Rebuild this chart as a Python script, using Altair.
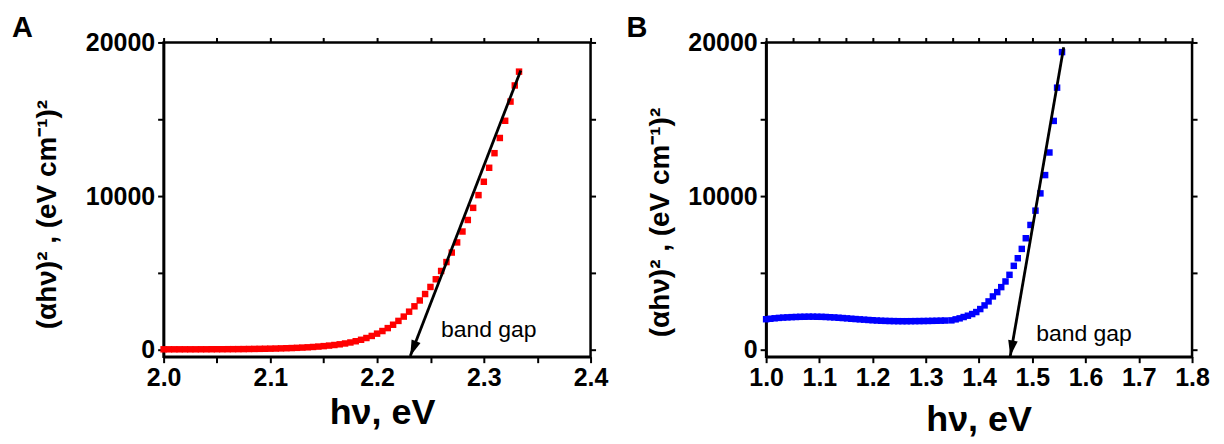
import altair as alt
import pandas as pd

# ---------------- data ----------------
a_hv = [2.000, 2.005, 2.010, 2.015, 2.020, 2.025, 2.030, 2.035, 2.040, 2.045,
        2.050, 2.055, 2.060, 2.065, 2.070, 2.075, 2.080, 2.085, 2.090, 2.095,
        2.100, 2.105, 2.110, 2.115, 2.120, 2.125, 2.130, 2.135, 2.140, 2.145,
        2.150, 2.155, 2.160, 2.165, 2.170, 2.175, 2.180, 2.185, 2.190, 2.195,
        2.200, 2.205, 2.210, 2.215, 2.220, 2.225, 2.230, 2.235, 2.240, 2.245,
        2.250, 2.255, 2.260, 2.265, 2.270, 2.275, 2.280, 2.285, 2.290, 2.295,
        2.300, 2.305, 2.310, 2.315, 2.320, 2.325, 2.329, 2.333]
a_val = [20, 20, 20, 20, 20, 20, 20, 22, 22, 24,
         25, 26, 28, 30, 32, 35, 40, 45, 50, 56,
         62, 70, 80, 90, 102, 116, 132, 150, 172, 198,
         228, 262, 300, 345, 400, 465, 545, 640, 755, 890,
         1040, 1210, 1400, 1620, 1870, 2150, 2470, 2820, 3200, 3620,
         4080, 4580, 5120, 5700, 6320, 6980, 7690, 8440, 9230, 10060,
         10930, 11840, 12790, 13780, 14900, 16150, 17200, 18100]

b_hv = [1.000, 1.008, 1.016, 1.024, 1.032, 1.040, 1.048, 1.056, 1.064, 1.072,
        1.080, 1.088, 1.096, 1.104, 1.112, 1.120, 1.128, 1.136, 1.144, 1.152,
        1.160, 1.168, 1.176, 1.184, 1.192, 1.200, 1.208, 1.216, 1.224, 1.232,
        1.240, 1.248, 1.256, 1.264, 1.272, 1.280, 1.288, 1.296, 1.304, 1.312,
        1.320, 1.328, 1.336, 1.348, 1.356, 1.3635, 1.371, 1.379, 1.387, 1.3947,
        1.4022, 1.4103, 1.4178, 1.4259, 1.4341, 1.4416, 1.4496, 1.4571, 1.4652, 1.4727,
        1.4802, 1.4877, 1.4965, 1.5059, 1.5152, 1.524, 1.5321, 1.5402, 1.5465, 1.5558]
b_val = [1980, 2010, 2040, 2065, 2085, 2100, 2115, 2125, 2135, 2140,
         2145, 2145, 2140, 2135, 2125, 2110, 2095, 2075, 2055, 2035,
         2010, 1990, 1970, 1950, 1930, 1912, 1895, 1880, 1870, 1862,
         1856, 1852, 1850, 1850, 1852, 1855, 1858, 1862, 1866, 1872,
         1878, 1885, 1893, 1905, 1970, 2035, 2122, 2208, 2316, 2446,
         2641, 2879, 3139, 3463, 3745, 4069, 4437, 4870, 5455, 5952,
         6558, 7251, 8117, 9048, 10173, 11364, 12835, 14892, 17056, 19372]

# tangent-line (arrow) end points: [top end, tip]
a_arrow_x = [2.3346, 2.2311]
a_arrow_y = [18180, -420]
b_arrow_x = [1.5589, 1.4585]
b_arrow_y = [19695, -435]

# annotation anchors
a_note = {"x": 2.2598, "y": 844, "text": "band gap"}
b_note = {"x": 1.5072, "y": 584, "text": "band gap"}

# axis ticks (major labelled, minor unlabelled)
y_ticks = [0, 5000, 10000, 15000, 20000]
a_ticks = [2.0, 2.05, 2.1, 2.15, 2.2, 2.25, 2.3, 2.35, 2.4]
b_ticks = [1.0, 1.05, 1.1, 1.15, 1.2, 1.25, 1.3, 1.35, 1.4, 1.45, 1.5,
           1.55, 1.6, 1.65, 1.7, 1.75, 1.8]

Y_TITLE = "(\u03b1h\u03bd)\u00b2 ,  (eV cm\u207b\u00b9)\u00b2"
X_TITLE = "h\u03bd, eV"
FONT = "Liberation Sans"

ARROW_PATH = "M0,0 L-0.3,-1 L0.3,-1 Z"
X_LABEL_EXPR = "round(datum.value*100) % 10 === 0 ? format(datum.value, '.1f') : ''"
Y_LABEL_EXPR = "datum.value % 10000 === 0 ? format(datum.value, 'd') : ''"
Y_DOMAIN = [-460, 20000]


def panel(hv, val, color, xdom, xticks, arrow_x, arrow_y, note, label,
          label_dx, ytitle_x, ytitle_y, xtitle_x, xtitle_y, head_angle, width):
    pts = pd.DataFrame({"hv": hv, "v": val})
    line = pd.DataFrame({"x": [arrow_x[0]], "y": [arrow_y[0]],
                         "x2": [arrow_x[1]], "y2": [arrow_y[1]]})
    tip = pd.DataFrame({"x": [arrow_x[1]], "y": [arrow_y[1]]})
    txt = pd.DataFrame([note])
    lab = pd.DataFrame({"t": [label]})

    xs = alt.Scale(domain=xdom, nice=False, zero=False)
    ys = alt.Scale(domain=Y_DOMAIN, nice=False, zero=False)

    base = alt.Chart(pts).mark_square(size=42, color=color, opacity=1,
                                      filled=True).encode(
        x=alt.X("hv:Q", scale=xs,
                axis=alt.Axis(values=xticks, labelExpr=X_LABEL_EXPR,
                              title=X_TITLE,
                              titleFontSize=36, titleFont=FONT,
                              titleFontWeight="bold", titleX=xtitle_x,
                              titleY=xtitle_y, titleBaseline="alphabetic",
                              titleAlign="center",
                              labelFontSize=25, labelFont=FONT,
                              labelFontWeight="bold", labelPadding=3,
                              labelFlush=False, labelOverlap=False,
                              tickSize=6)),
        y=alt.Y("v:Q", scale=ys,
                axis=alt.Axis(values=y_ticks, labelExpr=Y_LABEL_EXPR,
                              title=Y_TITLE,
                              titleFontSize=28, titleFont=FONT,
                              titleFontWeight="bold", titleAngle=270,
                              titleX=ytitle_x, titleY=ytitle_y,
                              titleAlign="center", titleBaseline="middle",
                              labelFontSize=25, labelFont=FONT,
                              labelFontWeight="bold", labelPadding=3,
                              labelFlush=False, labelOverlap=False,
                              tickSize=6)),
    )
    rule = alt.Chart(line).mark_rule(color="black", strokeWidth=2.8).encode(
        x="x:Q", y="y:Q", x2="x2:Q", y2="y2:Q")
    head = alt.Chart(tip).mark_point(shape=ARROW_PATH, filled=True,
                                     color="black", opacity=1, size=1024,
                                     angle=head_angle).encode(
        x="x:Q", y="y:Q")
    note_t = alt.Chart(txt).mark_text(align="left", baseline="alphabetic",
                                      font=FONT, fontSize=23,
                                      color="black").encode(
        x="x:Q", y="y:Q", text="text:N")
    lab_t = alt.Chart(lab).mark_text(align="left", baseline="alphabetic",
                                     font=FONT, fontSize=29,
                                     fontWeight="bold", color="black").encode(
        x=alt.value(label_dx), y=alt.value(-5), text="t:N")

    main = alt.layer(base, rule, head, note_t, lab_t)

    # mirrored (unlabelled) tick axes on the top and right of the frame
    mirror = alt.Chart(pts).mark_point(opacity=0).encode(
        x=alt.X("hv:Q", scale=alt.Scale(domain=xdom, nice=False, zero=False),
                axis=alt.Axis(orient="top", values=xticks, labels=False,
                              domain=False, tickSize=5, title="")),
        y=alt.Y("v:Q", scale=alt.Scale(domain=Y_DOMAIN, nice=False, zero=False),
                axis=alt.Axis(orient="right", values=y_ticks, labels=False,
                              domain=False, tickSize=5, title="")),
    )
    return alt.layer(main, mirror).resolve_scale(
        x="independent", y="independent").properties(width=width, height=315)


pa = panel(a_hv, a_val, "#ff0000", [2.0, 2.4], a_ticks, a_arrow_x, a_arrow_y,
           a_note, "A", -152, -116, 172, 219, 67, 21.2, 428)
pb = panel(b_hv, b_val, "#0000ff", [1.0, 1.8], b_ticks, b_arrow_x, b_arrow_y,
           b_note, "B", -140, -106, 180, 213, 74, 9.8, 427)

chart = alt.hconcat(pa, pb, spacing=176, bounds="flush").properties(
    padding={"left": 2, "top": 4, "right": 5, "bottom": 5},
    background="white"
).configure_view(
    stroke="black", strokeWidth=2.5
).configure_axis(
    domainColor="black", domainWidth=2.5, tickColor="black", tickWidth=2,
    labelColor="black", titleColor="black", grid=False
)

chart.save("out.html", embed_options={"renderer": "svg", "actions": False})
